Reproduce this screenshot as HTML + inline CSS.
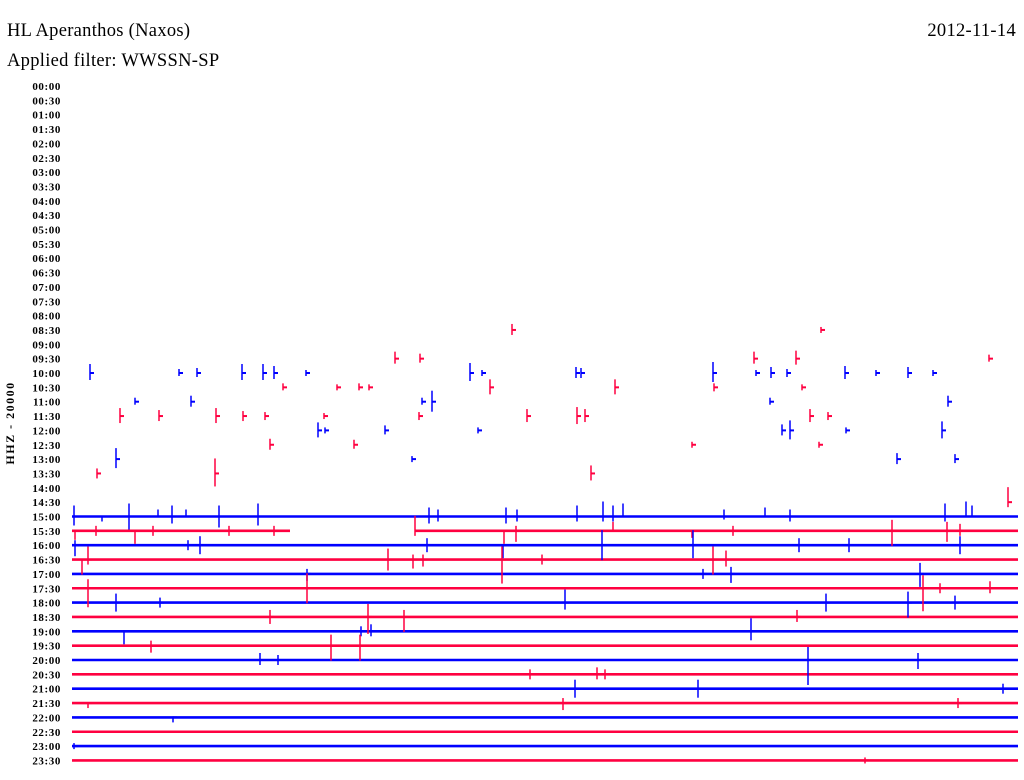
<!DOCTYPE html>
<html><head><meta charset="utf-8">
<style>
body{margin:0;background:#fff;}
svg{display:block;font-family:"Liberation Serif",serif;}
</style></head>
<body>
<svg id="c" width="1024" height="780">
<text x="7" y="36" font-size="18.5" letter-spacing="0.3">HL Aperanthos (Naxos)</text>
<text x="1016" y="36" font-size="18.5" letter-spacing="0.3" text-anchor="end">2012-11-14</text>
<text x="7" y="66" font-size="18.5" letter-spacing="0.3">Applied filter: WWSSN-SP</text>
<text transform="translate(14,423) rotate(-90)" font-size="12" letter-spacing="1.5" font-weight="bold" text-anchor="middle">HHZ - 20000</text>
<g id="labels"></g>
<g id="traces"></g>
</svg>
<script>
const rowLabels = [];
for (let i = 0; i < 48; i++) { const h = Math.floor(i/2); rowLabels.push((h<10?'0':'')+h+':'+(i%2?'30':'00')); }
// continuous trace rows: [rowIndex, startX, endX]
const segments = [[30,72,1018],[31,72,290],[31,415,1018],[32,72,1018],[33,72,1018],[34,72,1018],[35,72,1018],[36,72,1018],[37,72,1018],[38,72,1018],[39,72,1018],[40,72,1018],[41,72,1018],[42,72,1018],[43,72,1018],[44,72,1018],[45,72,1018],[46,72,1018],[47,72,1018]];
// spikes: [rowIndex, x, up, down]
const spikes = [
[17,512,5,4],[17,821,2,2],[19,395,6,4],[19,420,4,3],[19,754,6,4],[19,796,7,5],[19,989,3,2],
[20,90,8,6],[20,179,3,2],[20,197,4,3],[20,242,8,6],[20,263,8,6],[20,274,6,5],[20,306,2,2],[20,470,9,7],[20,482,2,2],[20,576,5,4],[20,581,4,4],[20,713,10,8],[20,756,2,2],[20,771,5,4],[20,787,3,3],[20,845,6,5],[20,876,2,2],[20,908,5,4],[20,933,2,2],
[21,283,3,2],[21,337,2,2],[21,359,3,2],[21,369,2,2],[21,490,7,6],[21,615,7,6],[21,714,3,3],[21,802,2,2],
[22,135,3,2],[22,191,5,4],[22,422,3,2],[22,432,10,9],[22,770,3,2],[22,948,5,4],
[23,120,7,6],[23,159,5,4],[23,216,7,6],[23,243,4,4],[23,265,3,3],[23,324,2,2],[23,419,3,3],[23,527,6,5],[23,577,8,7],[23,585,6,5],[23,810,6,5],[23,828,3,3],
[24,318,7,6],[24,325,2,2],[24,385,4,3],[24,478,2,2],[24,782,5,4],[24,790,9,8],[24,846,2,2],[24,942,8,7],
[25,270,5,4],[25,354,4,3],[25,692,2,2],[25,819,2,2],
[26,116,10,8],[26,412,2,2],[26,897,5,4],[26,955,4,3],
[27,97,4,4],[27,215,14,12],[27,591,7,6],
[29,1008,14,4],
[30,74,10,8],[30,102,0,4],[30,129,12,12],[30,158,6,0],[30,172,10,6],[30,186,6,0],[30,219,10,10],[30,258,12,8],[30,429,8,6],[30,438,6,4],[30,506,8,6],[30,517,6,4],[30,577,10,4],[30,603,14,4],[30,613,10,4],[30,623,12,0],[30,724,6,2],[30,765,8,0],[30,790,6,4],[30,945,12,4],[30,966,14,0],[30,972,10,0],
[31,75,0,8],[31,96,4,4],[31,135,0,12],[31,153,4,4],[31,229,4,4],[31,274,4,4],[31,415,14,4],[31,504,0,12],[31,516,4,10],[31,613,8,0],[31,692,0,6],[31,733,4,4],[31,892,10,14],[31,947,8,10],[31,960,6,4],
[32,75,4,10],[32,188,4,4],[32,200,8,8],[32,427,6,6],[32,503,0,12],[32,602,14,14],[32,693,14,12],[32,799,6,6],[32,849,6,6],[32,960,8,8],
[33,88,12,4],[33,82,0,14],[33,388,10,10],[33,413,4,8],[33,423,4,6],[33,502,12,23],[33,542,4,4],[33,713,12,14],[33,726,8,6],
[34,307,4,6],[34,703,4,4],[34,731,6,8],[34,920,10,12],
[35,88,8,18],[35,307,14,14],[35,923,12,22],[35,940,4,4],[35,990,6,4],
[36,116,8,8],[36,160,4,4],[36,565,12,6],[36,826,8,8],[36,908,10,14],[36,955,6,6],
[37,270,6,6],[37,368,12,16],[37,404,6,14],[37,797,6,4],
[38,124,0,12],[38,361,4,4],[38,371,6,4],[38,751,12,8],
[39,151,4,6],[39,331,10,14],[39,360,10,14],
[40,260,6,4],[40,278,4,4],[40,808,12,24],[40,918,6,8],
[41,530,4,4],[41,597,6,4],[41,605,4,4],
[42,575,8,8],[42,698,8,8],[42,1003,4,4],
[43,88,0,4],[43,563,4,6],[43,958,4,4],
[44,173,0,4],[46,74,2,2],[47,865,2,2]
];
const yTop = 86, rowStep = 14.35;
function rowY(i){ return yTop + i*rowStep; }
function color(i){ return i%2 ? '#ff0040' : '#0000ff'; }
const NS='http://www.w3.org/2000/svg';
const lg=document.getElementById('labels'), tg=document.getElementById('traces');
rowLabels.forEach((t,i)=>{
  const el=document.createElementNS(NS,'text');
  el.setAttribute('x',61);el.setAttribute('y',rowY(i)+4);
  el.setAttribute('font-size','11');el.setAttribute('text-anchor','end');
  el.setAttribute('font-weight','bold');el.setAttribute('letter-spacing','0.6');
  
  
  el.textContent=t; lg.appendChild(el);
});
segments.forEach(s=>{
  const el=document.createElementNS(NS,'line');
  el.setAttribute('x1',s[1]);el.setAttribute('x2',s[2]);
  el.setAttribute('y1',rowY(s[0]));el.setAttribute('y2',rowY(s[0]));
  el.setAttribute('stroke',color(s[0]));el.setAttribute('stroke-width','2.6');
  
  
  tg.appendChild(el);
});
spikes.forEach(s=>{
  const y=rowY(s[0]);
  const el=document.createElementNS(NS,'line');
  el.setAttribute('x1',s[1]);el.setAttribute('x2',s[1]);
  el.setAttribute('y1',y-s[2]-1);el.setAttribute('y2',y+s[3]+1);
  el.setAttribute('stroke',color(s[0]));el.setAttribute('stroke-width','1.5');
  
  
  tg.appendChild(el);
  const t=document.createElementNS(NS,'line');
  t.setAttribute('x1',s[1]);t.setAttribute('x2',s[1]+4);
  t.setAttribute('y1',y);t.setAttribute('y2',y);
  t.setAttribute('stroke',color(s[0]));t.setAttribute('stroke-width','2');
  
  
  tg.appendChild(t);
});
</script>
</body></html>
